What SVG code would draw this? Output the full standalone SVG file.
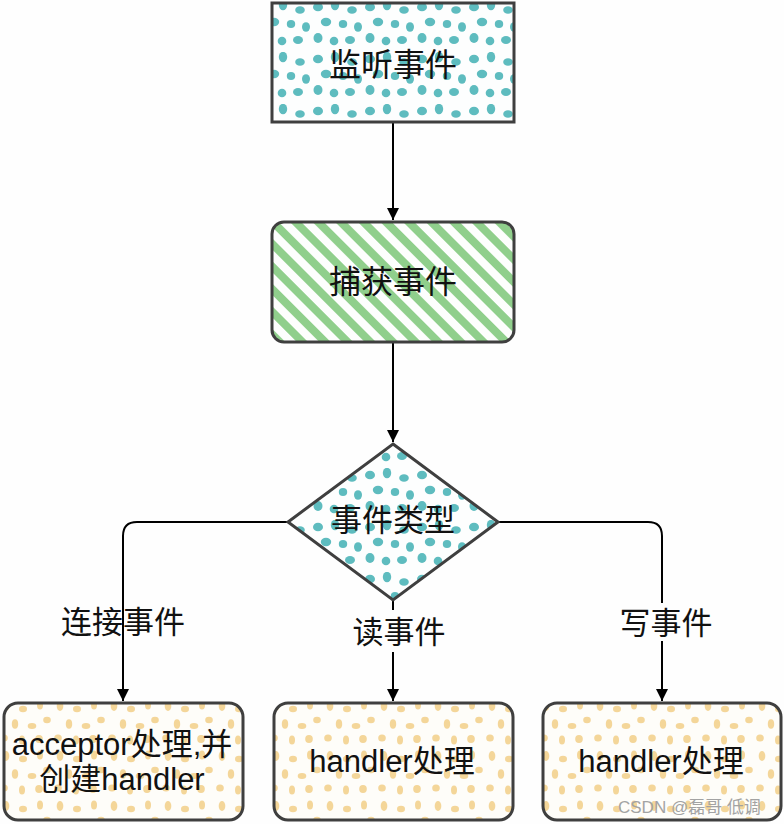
<svg xmlns="http://www.w3.org/2000/svg" width="784" height="824" viewBox="0 0 784 824">
<style>
.box{stroke:#3f3f3f;stroke-width:3}
.t{font-family:"Liberation Sans","Noto Sans CJK SC",sans-serif;fill:#111;text-anchor:middle}
.c{fill:none;stroke:#000;stroke-width:2}
.wm{font-family:"Liberation Sans","Noto Sans CJK SC",sans-serif;font-size:17px;fill:#a3a3a3}
</style>
<defs>
<pattern id="teal" patternUnits="userSpaceOnUse" width="52" height="52">
<rect width="52" height="52" fill="#fdfefe"/>
<g fill="#5ebcbf">
<ellipse cx="6" cy="7" rx="5" ry="4.3"/>
<ellipse cx="23" cy="5" rx="4.2" ry="5.2"/>
<ellipse cx="40" cy="10" rx="4.8" ry="3.8"/>
<ellipse cx="46" cy="27" rx="4" ry="4.8"/>
<ellipse cx="14" cy="22" rx="5.2" ry="4.2"/>
<ellipse cx="31" cy="24" rx="4.2" ry="4"/>
<ellipse cx="6" cy="38" rx="4.5" ry="5"/>
<ellipse cx="22" cy="41" rx="4.3" ry="4.3"/>
<ellipse cx="38" cy="40" rx="5" ry="4"/>
</g>
</pattern>
<pattern id="yellow" patternUnits="userSpaceOnUse" width="54" height="50">
<rect width="54" height="50" fill="#fefdf9"/>
<g fill="#f4d699">
<ellipse cx="6" cy="6" rx="3.3" ry="5"/>
<ellipse cx="23" cy="9" rx="4" ry="3.3"/>
<ellipse cx="40" cy="5" rx="3" ry="4.5"/>
<ellipse cx="47" cy="20" rx="3.8" ry="3.3"/>
<ellipse cx="15" cy="24" rx="3.2" ry="4.8"/>
<ellipse cx="32" cy="26" rx="4.3" ry="3"/>
<ellipse cx="4" cy="38" rx="3.8" ry="3.5"/>
<ellipse cx="22" cy="40" rx="3" ry="4.5"/>
<ellipse cx="39" cy="39" rx="3.8" ry="4"/>
</g>
</pattern>
<pattern id="hatch" patternUnits="userSpaceOnUse" width="16" height="16" patternTransform="rotate(-45)">
<rect width="16" height="16" fill="#fdfefd"/>
<rect x="0" y="0" width="8" height="16" fill="#90cf8c"/>
</pattern>
<marker id="arr" viewBox="0 0 12 12" refX="12" refY="6" markerWidth="12" markerHeight="12" markerUnits="userSpaceOnUse" orient="auto">
<path d="M0,0 L12,6 L0,12 Z" fill="#000"/>
</marker>
</defs>
<rect width="784" height="824" fill="#fefefe"/>

<g id="connectors">
<path class="c" d="M393,123 V220" marker-end="url(#arr)"/>
<path class="c" d="M393,343 V442" marker-end="url(#arr)"/>
<path class="c" d="M288,522 H137 Q123,522 123,536 V701" marker-end="url(#arr)"/>
<path class="c" d="M393,600 V610"/>
<path class="c" d="M393,652 V701" marker-end="url(#arr)"/>
<path class="c" d="M498,522 H648 Q662,522 662,536 V603"/>
<path class="c" d="M662,641 V701" marker-end="url(#arr)"/>
</g>

<g id="label-connect"><text class="t" x="123" y="633" font-size="31">连接事件</text></g>
<g id="label-read"><text class="t" x="399" y="643" font-size="31">读事件</text></g>
<g id="label-write"><text class="t" x="666" y="634" font-size="31">写事件</text></g>

<g id="listen">
<rect class="box" x="272" y="3" width="242" height="119" fill="url(#teal)"/>
<text class="t" x="393" y="76" font-size="32">监听事件</text>
</g>

<g id="capture">
<rect class="box" x="272" y="222" width="242" height="120" rx="12" fill="url(#hatch)"/>
<text class="t" x="393" y="293" font-size="32">捕获事件</text>
</g>

<g id="type">
<polygon class="box" points="393,444 498,522 393,600 288,522" fill="url(#teal)"/>
<text class="t" x="393" y="531" font-size="31">事件类型</text>
</g>

<g id="acceptor">
<rect class="box" x="4" y="703" width="239" height="117" rx="14" fill="url(#yellow)"/>
<text class="t" x="122" y="755" font-size="31">acceptor处理,并</text>
<text class="t" x="122" y="790" font-size="31">创建handler</text>
</g>

<g id="read-handler">
<rect class="box" x="274" y="703" width="239" height="117" rx="14" fill="url(#yellow)"/>
<text class="t" x="392" y="772" font-size="31">handler处理</text>
</g>

<g id="write-handler">
<rect class="box" x="543" y="703" width="238" height="117" rx="14" fill="url(#yellow)"/>
<text class="t" x="661" y="772" font-size="31">handler处理</text>
</g>

<text class="wm" x="618" y="813">CSDN @磊哥 低调</text>
</svg>
